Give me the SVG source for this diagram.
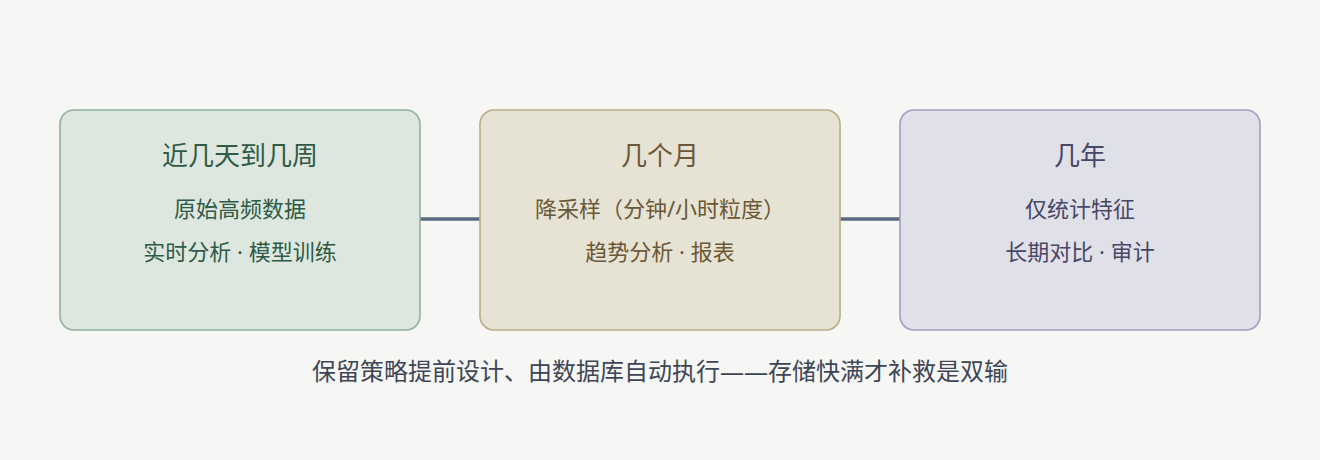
<svg xmlns="http://www.w3.org/2000/svg" width="1320" height="460" viewBox="0 0 1320 460">
<style>
text{font-family:"Noto Sans","Noto Sans CJK SC",sans-serif;text-anchor:middle}
.t{font-size:26px}
.s{font-size:22px}
.n1 rect{fill:#dde7e0;stroke:#8fb39e}
.n1 text{fill:#2f5a45}
.n2 rect{fill:#e6e2d4;stroke:#b8ad88}
.n2 text{fill:#6b5836}
.n3 rect{fill:#e0e0e9;stroke:#a09fba}
.n3 text{fill:#474766}
rect{stroke-width:1.6}
</style>
<rect width="1320" height="460" fill="#f6f6f4"/>
<g id="connectors" stroke="#5b6a80" stroke-width="3.5">
<line x1="420" y1="219" x2="480" y2="219"/>
<line x1="840" y1="219" x2="900" y2="219"/>
</g>
<g id="n1" class="n1">
<rect x="60" y="110" width="360" height="220" rx="14"/>
<text class="t" x="240" y="165">近几天到几周</text>
<text class="s" x="240" y="217">原始高频数据</text>
<text class="s" x="240" y="260">实时分析 · 模型训练</text>
</g>
<g id="n2" class="n2">
<rect x="480" y="110" width="360" height="220" rx="14"/>
<text class="t" x="660" y="165">几个月</text>
<text class="s" x="660" y="217">降采样（分钟/小时粒度）</text>
<text class="s" x="660" y="260">趋势分析 · 报表</text>
</g>
<g id="n3" class="n3">
<rect x="900" y="110" width="360" height="220" rx="14"/>
<text class="t" x="1080" y="165">几年</text>
<text class="s" x="1080" y="217">仅统计特征</text>
<text class="s" x="1080" y="260">长期对比 · 审计</text>
</g>
<text x="660" y="380" font-size="24" fill="#3e4656">保留策略提前设计、由数据库自动执行——存储快满才补救是双输</text>
</svg>
